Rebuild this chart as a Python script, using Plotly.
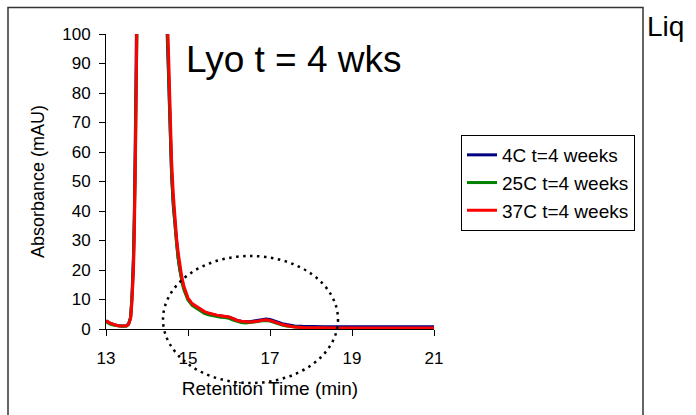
import plotly.graph_objects as go

# Retention time grid (min)
retention_time = [13.0, 13.1, 13.2, 13.3, 13.4, 13.5, 13.55, 13.6, 13.63, 13.65, 13.67, 13.69,
                  13.71, 13.73, 13.75, 13.8, 13.9, 14.0, 14.1, 14.2, 14.3, 14.4, 14.48, 14.52,
                  14.56, 14.6, 14.64, 14.68, 14.72, 14.76, 14.8, 14.85, 14.9, 15.0, 15.1, 15.2,
                  15.3, 15.4, 15.5, 15.6, 15.7, 15.8, 15.9, 16.0, 16.1, 16.2, 16.3, 16.4, 16.5,
                  16.6, 16.7, 16.8, 16.9, 17.0, 17.1, 17.2, 17.3, 17.4, 17.5, 17.6, 17.8, 18.0,
                  18.3, 18.6, 19.0, 20.0, 21.0]

# Absorbance (mAU) for each storage temperature
abs_4c = [2.8, 2.0, 1.5, 1.1, 1.0, 1.1, 1.7, 4.0, 10.0, 16.0, 25.0, 38.0,
          55.0, 82.0, 115.0, 190.0, 310.0, 390.0, 400.0, 340.0, 250.0, 170.0, 105.0, 88.0,
          68.0, 52.0, 42.0, 35.0, 28.5, 24.0, 20.0, 16.5, 13.8, 10.2, 8.4, 7.4,
          6.5, 5.8, 5.3, 4.9, 4.6, 4.4, 4.3, 4.0, 3.5, 2.9, 2.6, 2.5, 2.5,
          2.7, 2.9, 3.3, 3.4, 3.2, 2.7, 2.2, 1.8, 1.5, 1.2, 1.0, 0.9, 0.8,
          0.8, 0.8, 0.8, 0.8, 0.8]

abs_25c = [2.4, 1.7, 1.3, 1.0, 0.9, 1.0, 1.6, 3.8, 9.5, 15.0, 23.0, 35.0,
           51.0, 78.0, 110.0, 190.0, 310.0, 390.0, 400.0, 340.0, 250.0, 170.0, 108.0, 90.0,
           70.0, 53.0, 43.0, 35.0, 29.0, 24.0, 19.8, 16.0, 13.3, 9.8, 8.0, 7.0,
           6.0, 5.3, 4.8, 4.5, 4.2, 4.0, 3.9, 3.6, 3.0, 2.5, 2.2, 2.0, 2.1,
           2.3, 2.5, 2.8, 2.9, 2.7, 2.2, 1.7, 1.3, 1.0, 0.8, 0.6, 0.4, 0.3,
           0.2, 0.2, 0.2, 0.2, 0.2]

abs_37c = [2.8, 2.0, 1.5, 1.1, 1.0, 1.1, 1.6, 3.5, 8.5, 13.0, 20.0, 31.0,
           45.0, 70.0, 100.0, 180.0, 300.0, 380.0, 390.0, 330.0, 240.0, 165.0, 112.0, 96.0,
           75.0, 57.0, 46.0, 38.0, 31.0, 26.0, 21.5, 17.5, 14.5, 10.5, 8.6, 7.6,
           6.6, 5.9, 5.4, 5.0, 4.7, 4.5, 4.4, 4.1, 3.5, 2.9, 2.6, 2.4, 2.4,
           2.5, 2.6, 3.0, 3.1, 2.9, 2.4, 1.9, 1.5, 1.2, 0.9, 0.7, 0.5, 0.4,
           0.3, 0.3, 0.3, 0.3, 0.3]

series_names = ["4C t=4 weeks", "25C t=4 weeks", "37C t=4 weeks"]
series_colors = ["#000080", "#008000", "#ff0000"]

x_ticks = [13, 15, 17, 19, 21]
y_ticks = [0, 10, 20, 30, 40, 50, 60, 70, 80, 90, 100]

FONT = "Liberation Sans, Arial, sans-serif"

fig = go.Figure()
for name, color, values in zip(series_names, series_colors, [abs_4c, abs_25c, abs_37c]):
    fig.add_trace(go.Scatter(x=retention_time, y=values, mode="lines", name=name,
                             line=dict(color=color, width=3)))

# plot-area pixel geometry (used to place paper-referenced decorations)
L, R, T, B = 106, 262, 34, 86
W, H = 696, 415
pw, ph = W - L - R, H - T - B


def px(xp):
    return (xp - L) / pw


def py(yp):
    return (H - B - yp) / ph


shapes = [
    # outer frame around the chart panel
    dict(type="rect", xref="paper", yref="paper", x0=px(8), x1=px(643), y0=py(7.5), y1=py(430),
         line=dict(color="#333333", width=1.5), fillcolor="rgba(0,0,0,0)"),
    # dotted ellipse highlighting the post-peak region
    dict(type="circle", xref="paper", yref="paper", x0=px(163), x1=px(338), y0=py(383), y1=py(256),
         line=dict(color="black", width=2.5, dash="2.5px,4.5px"), fillcolor="rgba(0,0,0,0)"),
]

annotations = [
    dict(text="Lyo t = 4 wks", xref="paper", yref="paper", x=px(184), y=py(37),
         xanchor="left", yanchor="top", showarrow=False,
         font=dict(family=FONT, size=37, color="black")),
    dict(text="Liq", xref="paper", yref="paper", x=px(645), y=py(9),
         xanchor="left", yanchor="top", showarrow=False,
         font=dict(family=FONT, size=28, color="black")),
]

fig.update_layout(
    width=W, height=H,
    margin=dict(l=L, r=R, t=T, b=B, autoexpand=False),
    paper_bgcolor="white", plot_bgcolor="white",
    font=dict(family=FONT, color="black"),
    showlegend=True,
    legend=dict(x=px(461), y=py(135), xanchor="left", yanchor="top",
                bgcolor="white", bordercolor="black", borderwidth=1,
                font=dict(family=FONT, size=19, color="black"),
                tracegroupgap=0),
    shapes=shapes,
    annotations=annotations,
)

fig.update_xaxes(range=[13, 21], tickvals=x_ticks, ticktext=[str(v) for v in x_ticks],
                 showgrid=False, zeroline=False, showline=True, linecolor="black", linewidth=1,
                 ticks="outside", ticklen=6, tickcolor="black", tickwidth=1,
                 ticklabelstandoff=8,
                 tickfont=dict(family=FONT, size=17, color="black"),
                 title=dict(text="Retention Time (min)", standoff=14,
                            font=dict(family=FONT, size=19, color="black")))
fig.update_yaxes(range=[0, 100], tickvals=y_ticks, ticktext=[str(v) for v in y_ticks],
                 showgrid=False, zeroline=False, showline=True, linecolor="black", linewidth=1,
                 ticks="outside", ticklen=6, tickcolor="black", tickwidth=1,
                 ticklabelstandoff=5,
                 tickfont=dict(family=FONT, size=17, color="black"),
                 title=dict(text="Absorbance (mAU)", standoff=12,
                            font=dict(family=FONT, size=18, color="black")))

fig.write_html("out.html")
